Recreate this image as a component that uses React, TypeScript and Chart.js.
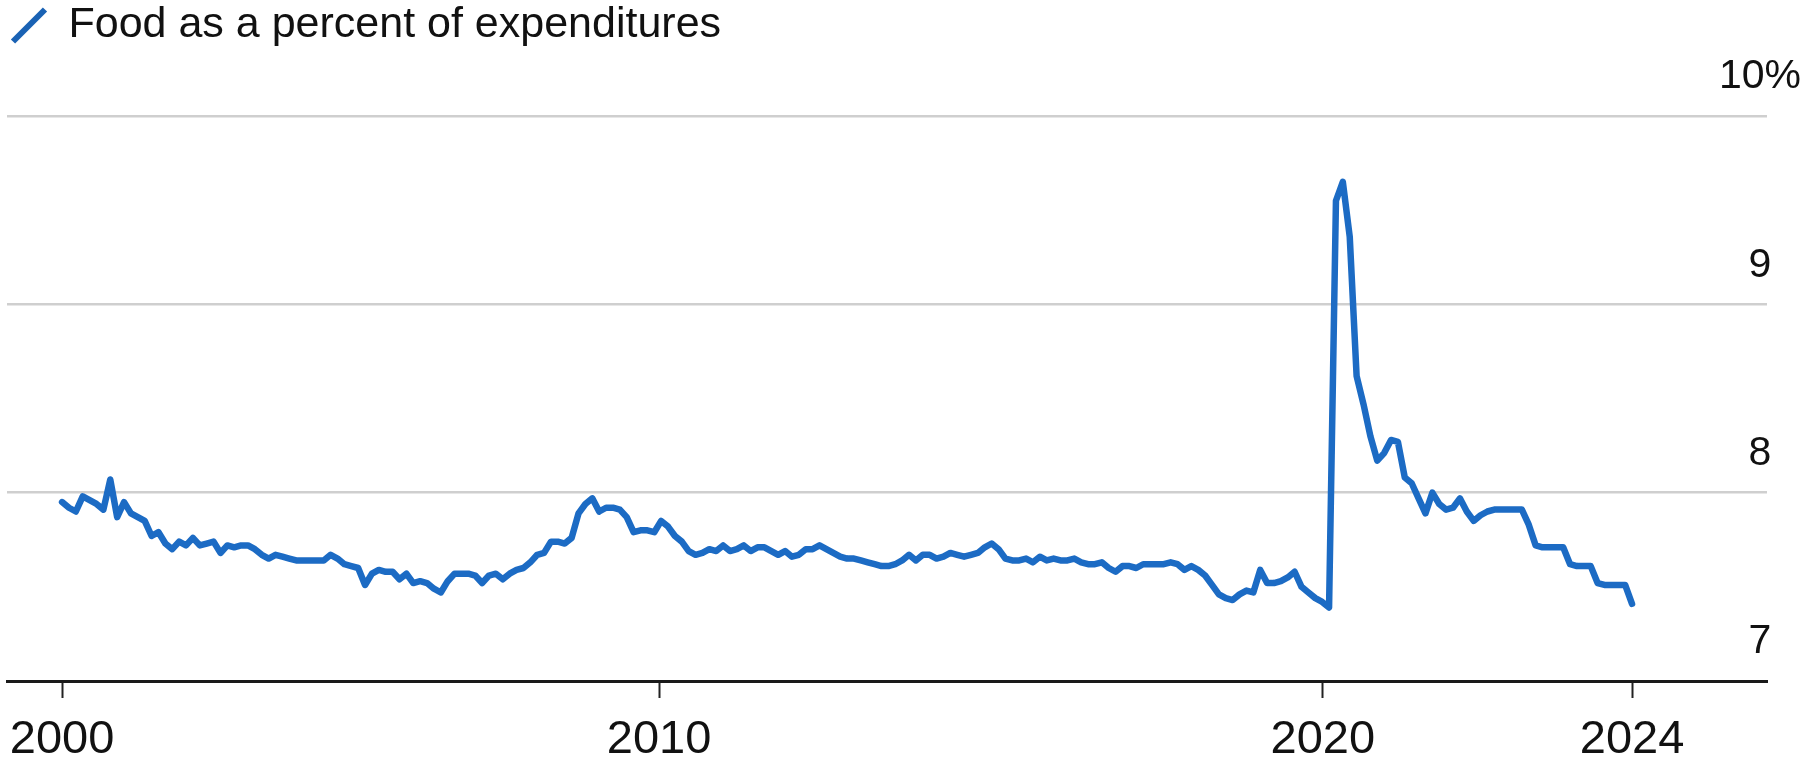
import React, { useEffect, useRef } from 'react';
import { Chart, registerables } from 'chart.js';

Chart.register(...registerables);

const seriesLabel = 'Food as a percent of expenditures';

// observations, equally spaced along the axis (2000 → 2024)
const foodShare = [
  7.95, 7.92, 7.90, 7.98, 7.96, 7.94, 7.91, 8.07, 7.87, 7.95,
  7.89, 7.87, 7.85, 7.77, 7.79, 7.73, 7.70, 7.74, 7.72, 7.76,
  7.72, 7.73, 7.74, 7.68, 7.72, 7.71, 7.72, 7.72, 7.70, 7.67,
  7.65, 7.67, 7.66, 7.65, 7.64, 7.64, 7.64, 7.64, 7.64, 7.67,
  7.65, 7.62, 7.61, 7.60, 7.51, 7.57, 7.59, 7.58, 7.58, 7.54,
  7.57, 7.52, 7.53, 7.52, 7.49, 7.47, 7.53, 7.57, 7.57, 7.57,
  7.56, 7.52, 7.56, 7.57, 7.54, 7.57, 7.59, 7.60, 7.63, 7.67,
  7.68, 7.74, 7.74, 7.73, 7.76, 7.89, 7.94, 7.97, 7.90, 7.92,
  7.92, 7.91, 7.87, 7.79, 7.80, 7.80, 7.79, 7.85, 7.82, 7.77,
  7.74, 7.69, 7.67, 7.68, 7.70, 7.69, 7.72, 7.69, 7.70, 7.72,
  7.69, 7.71, 7.71, 7.69, 7.67, 7.69, 7.66, 7.67, 7.70, 7.70,
  7.72, 7.70, 7.68, 7.66, 7.65, 7.65, 7.64, 7.63, 7.62, 7.61,
  7.61, 7.62, 7.64, 7.67, 7.64, 7.67, 7.67, 7.65, 7.66, 7.68,
  7.67, 7.66, 7.67, 7.68, 7.71, 7.73, 7.70, 7.65, 7.64, 7.64,
  7.65, 7.63, 7.66, 7.64, 7.65, 7.64, 7.64, 7.65, 7.63, 7.62,
  7.62, 7.63, 7.60, 7.58, 7.61, 7.61, 7.60, 7.62, 7.62, 7.62,
  7.62, 7.63, 7.62, 7.59, 7.61, 7.59, 7.56, 7.51, 7.46, 7.44,
  7.43, 7.46, 7.48, 7.47, 7.59, 7.52, 7.52, 7.53, 7.55, 7.58,
  7.50, 7.47, 7.44, 7.42, 7.39, 9.55, 9.65, 9.36, 8.62, 8.47,
  8.30, 8.17, 8.21, 8.28, 8.27, 8.08, 8.05, 7.97, 7.89, 8.00,
  7.94, 7.91, 7.92, 7.97, 7.90, 7.85, 7.88, 7.90, 7.91, 7.91,
  7.91, 7.91, 7.91, 7.83, 7.72, 7.71, 7.71, 7.71, 7.71, 7.62,
  7.61, 7.61, 7.61, 7.52, 7.51, 7.51, 7.51, 7.51, 7.41,
];

// observation index at which each year label sits
const yearTickIndex = [0, 86.7, 183.1, 228];
const yearTickLabels = ['2000', '2010', '2020', '2024'];

const yTickValues = [7, 8, 9, 10];

const LINE_BLUE = '#1c6bc4';
const FONT = "'Liberation Sans', Arial, Helvetica, sans-serif";

export default function App() {
  const canvasRef = useRef<HTMLCanvasElement | null>(null);

  useEffect(() => {
    const canvas = canvasRef.current;
    if (!canvas) return;
    Chart.defaults.font.family = FONT;
    Chart.defaults.color = '#111';

    const chart = new Chart(canvas, {
      type: 'line',
      data: {
        datasets: [
          {
            label: seriesLabel,
            data: foodShare.map((v, i) => ({ x: i, y: v })),
            borderColor: LINE_BLUE,
            borderWidth: 6.5,
            borderJoinStyle: 'round',
            borderCapStyle: 'round',
            pointRadius: 0,
            pointHoverRadius: 0,
            pointStyle: 'line',
            pointRotation: -45,
            pointBorderColor: '#1a62b4',
            pointBorderWidth: 6,
            tension: 0,
            fill: false,
          },
        ],
      },
      options: {
        animation: false,
        responsive: true,
        maintainAspectRatio: false,
        devicePixelRatio: 1,
        events: [],
        layout: { padding: { left: 7, right: 39, top: 0, bottom: 0 } },
        plugins: {
          tooltip: { enabled: false },
          legend: {
            display: true,
            position: 'top',
            align: 'start',
            labels: {
              usePointStyle: true,
              boxWidth: 36,
              boxHeight: 32,
              padding: 4,
              color: '#111',
              font: { size: 43, family: FONT },
            },
          },
          // empty spacer between the legend and the plot
          title: {
            display: true,
            text: '',
            position: 'top',
            weight: 500,
            padding: { top: 24, bottom: 25 },
            font: { size: 10, lineHeight: 1 },
          },
        },
        scales: {
          x: {
            type: 'linear',
            min: -8,
            max: 247.6,
            afterBuildTicks: (axis: any) => {
              axis.ticks = yearTickIndex.map((v) => ({ value: v }));
            },
            afterFit: (axis: any) => {
              axis.height = 82;
            },
            grid: {
              display: true,
              drawOnChartArea: false,
              drawTicks: true,
              tickLength: 17,
              tickWidth: 2,
              tickColor: '#222',
              color: '#222',
            },
            border: { display: true, color: '#1a1a1a', width: 3 },
            ticks: {
              autoSkip: false,
              maxRotation: 0,
              padding: 0,
              color: '#111',
              font: { size: 47, family: FONT, lineHeight: 1.8 },
              callback: (_v: any, index: number) => yearTickLabels[index] ?? '',
            },
          },
          y: {
            type: 'linear',
            position: 'right',
            min: 7,
            max: 10,
            afterBuildTicks: (axis: any) => {
              axis.ticks = yTickValues.map((v) => ({ value: v }));
            },
            afterFit: (axis: any) => {
              axis.width = 0;
            },
            grid: {
              drawTicks: false,
              lineWidth: 2.5,
              color: (ctx: any) =>
                ctx.tick && ctx.tick.value === 7 ? 'rgba(0,0,0,0)' : '#cfcfcf',
            },
            border: { display: false },
            ticks: {
              mirror: true,
              crossAlign: 'center',
              padding: 34,
              labelOffset: -39,
              color: '#111',
              font: { size: 41, family: FONT },
              callback: (v: any) => (v === 10 ? '10%' : String(v)),
            },
          },
        },
      },
    });

    return () => {
      chart.destroy();
    };
  }, []);

  return (
    <div
      style={{
        position: 'fixed',
        left: 0,
        top: 0,
        width: '1806px',
        height: '763px',
        background: '#fff',
      }}
    >
      <canvas ref={canvasRef} />
    </div>
  );
}
